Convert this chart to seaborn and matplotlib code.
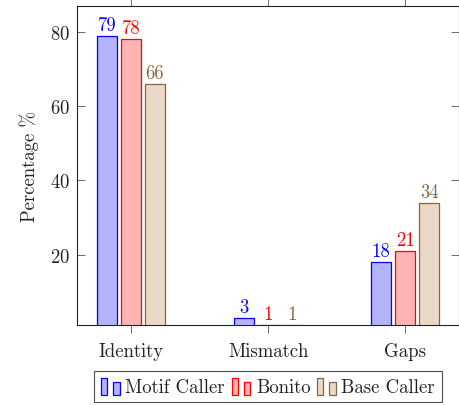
import matplotlib
matplotlib.use("Agg")
import matplotlib.pyplot as plt
from matplotlib.legend_handler import HandlerBase
from matplotlib.patches import Rectangle
from matplotlib.font_manager import FontProperties
import seaborn as sns
import pandas as pd

# Alignment metrics per tool
categories = ["Identity", "Mismatch", "Gaps"]
series = ["Motif Caller", "Bonito", "Base Caller"]
motif_caller = [79, 3, 18]
bonito = [78, 1, 21]
base_caller = [66, 1, 34]
y_ticks = [20, 40, 60, 80]

edge_colors = ["#0000ff", "#ff0000", "#8c6440"]
fill_colors = ["#b3b3ff", "#ffb3b3", "#ead9c6"]
label_colors = ["#0000ff", "#ff0000", "#8c6440"]

df = pd.DataFrame({
    "category": categories * 3,
    "tool": [s for s in series for _ in categories],
    "value": motif_caller + bonito + base_caller,
})

sns.set_theme(style="white")
plt.rcParams["font.family"] = ["cmr10", "DejaVu Serif"]
plt.rcParams["mathtext.fontset"] = "cm"
plt.rcParams["axes.formatter.use_mathtext"] = True
FS = 13.5

fig = plt.figure(figsize=(4.6, 4.06), dpi=100)
ax = fig.add_axes([0.1674, 0.197, 0.998 - 0.1674, 0.9828 - 0.197])

sns.barplot(data=df, x="category", y="value", hue="tool", order=categories,
            hue_order=series, width=0.525, gap=0.165, ax=ax, errorbar=None,
            palette=fill_colors, saturation=1, legend=False)

for cont, fc, ec, lc in zip(ax.containers, fill_colors, edge_colors, label_colors):
    for bar in cont:
        bar.set_facecolor(fc)
        bar.set_edgecolor(ec)
        bar.set_linewidth(0.9)
    ax.bar_label(cont, fmt="%d", padding=1.5, color=lc, fontsize=FS)

ax.set_xlim(-0.394, 2.394)
ax.set_ylim(1, 87)
ax.set_yticks(y_ticks)
ax.set_xlabel("")
ax.set_ylabel("Percentage %", fontsize=FS, color="#222222", labelpad=8)

for s in ax.spines.values():
    s.set_visible(True)
    s.set_color("#222222")
    s.set_linewidth(0.8)

ax.tick_params(axis="y", direction="in", length=6, width=0.6, left=True, right=True,
               labelsize=FS, labelcolor="#222222", color="#555555", pad=5)
ax.tick_params(axis="x", direction="out", length=6, width=0.6, bottom=True, top=True,
               labelsize=FS, labelcolor="#222222", color="#555555", pad=6)


class TwoBarHandler(HandlerBase):
    """Legend key made of two small bars side by side."""
    def create_artists(self, legend, orig_handle, xdescent, ydescent, width, height,
                       fontsize, trans):
        fc = orig_handle.get_facecolor()
        ec = orig_handle.get_edgecolor()
        base = -ydescent - 0.15 * fontsize
        w = 0.33 * fontsize
        r1 = Rectangle((-xdescent, base), w, 0.9 * fontsize, facecolor=fc,
                       edgecolor=ec, linewidth=0.9, transform=trans)
        r2 = Rectangle((-xdescent + 2 * w, base), w, 0.68 * fontsize, facecolor=fc,
                       edgecolor=ec, linewidth=0.9, transform=trans)
        return [r1, r2]


handles = [Rectangle((0, 0), 1, 1, facecolor=fc, edgecolor=ec)
           for fc, ec in zip(fill_colors, edge_colors)]
leg = ax.legend(handles, series, loc="upper center", bbox_to_anchor=(0.5, -0.145),
                ncol=3, frameon=True, fancybox=False,
                prop=FontProperties(family=["cmr10", "DejaVu Serif"], size=FS),
                handler_map={Rectangle: TwoBarHandler()},
                handlelength=1.0, handletextpad=0.3, columnspacing=0.35,
                borderpad=0.35, borderaxespad=0)
leg.get_frame().set_edgecolor("#222222")
leg.get_frame().set_linewidth(0.8)
for t in leg.get_texts():
    t.set_color("#222222")

fig.savefig("out.png", dpi=100)
